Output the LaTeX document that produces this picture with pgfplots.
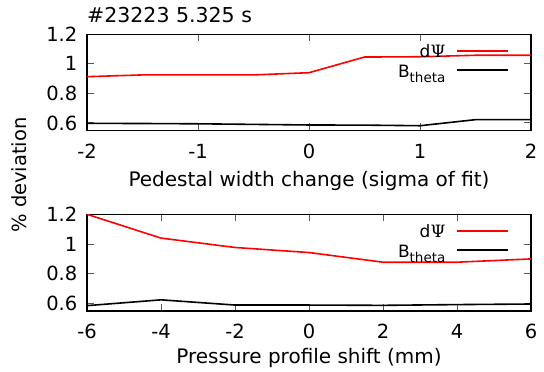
\documentclass[border=0pt]{standalone}
\usepackage{pgfplots}
\pgfplotsset{compat=1.18}
\usepackage{fontspec}
\setmainfont{DejaVu Sans}
\newfontfamily\psifont{DejaVu Serif}

\pgfplotsset{
  myaxis/.style={
    scale only axis, width=444pt,
    ymin=0.55, ymax=1.2,
    ytick={0.6,0.8,1,1.2},
    tick align=inside,
    major tick length=7pt,
    axis line style={line width=1.1pt},
    every tick/.style={black!65, line width=0.9pt},
    tick label style={font=\fontsize{19.5}{22}\selectfont, inner sep=0pt},
    /pgf/number format/assume math mode=true,
    yticklabel style={/pgf/number format/fixed, /pgf/number format/precision=1, anchor=east, xshift=-9.5pt},
    xticklabel style={anchor=base, yshift=-28pt},
    legend style={draw=none, fill=none, inner sep=0pt, outer sep=0pt,
      anchor=north east, font=\fontsize{17}{19}\selectfont,
      nodes={inner sep=0pt, text height=14pt, text depth=0pt},
      column sep=11pt, row sep=5.3pt},
    legend plot pos=right, legend cell align=right,
    legend image code/.code={\draw[#1] (0pt,0pt) -- (51pt,0pt);},
  },
  redline/.style={red, line width=1.6pt, mark=none},
  blackline/.style={black, line width=1.6pt, mark=none},
}

\begin{document}
\begin{tikzpicture}
\useasboundingbox (0,0) rectangle (544pt,372pt);

\begin{axis}[myaxis, at={(87pt,241.7pt)}, anchor=south west, height=96pt,
  xmin=-2, xmax=2, xtick={-2,-1,0,1,2},
  xlabel={Pedestal width change (sigma of fit)},
  xlabel style={at={(axis description cs:0.5,0)}, anchor=base, yshift=-56pt, font=\fontsize{20}{24}\selectfont, inner sep=0pt},
  title={\#23223 5.325 s},
  title style={at={(axis description cs:0,1)}, anchor=base west, yshift=6pt, font=\fontsize{20.5}{24}\selectfont, inner sep=0pt},
  legend style={at={(axis description cs:0.9505,0.902)}},
]
\addplot[redline] coordinates {(-2,0.913) (-1.5,0.925) (-1,0.925) (-0.5,0.925) (0,0.94) (0.5,1.046) (1,1.048) (1.5,1.058) (2,1.058)};
\addlegendentry{d{\psifont Ψ}}
\addplot[blackline] coordinates {(-2,0.597) (-1.5,0.596) (-1,0.594) (-0.5,0.59) (0,0.586) (0.5,0.585) (1,0.581) (1.5,0.622) (2,0.622)};
\addlegendentry{B\raisebox{-5pt}{\fontsize{13.5}{14}\selectfont theta}}
\end{axis}

\begin{axis}[myaxis, at={(87pt,61pt)}, anchor=south west, height=96.7pt,
  xmin=-6, xmax=6, xtick={-6,-4,-2,0,2,4,6},
  xlabel={Pressure profile shift (mm)},
  xlabel style={at={(axis description cs:0.5,0)}, anchor=base, yshift=-52.3pt, font=\fontsize{20}{24}\selectfont, inner sep=0pt},
  legend style={at={(axis description cs:0.9505,0.9)}},
]
\addplot[redline] coordinates {(-6,1.2) (-4,1.04) (-2,0.977) (0,0.943) (2,0.878) (4,0.878) (6,0.9)};
\addlegendentry{d{\psifont Ψ}}
\addplot[blackline] coordinates {(-6,0.586) (-4,0.625) (-2,0.59) (0,0.59) (2,0.588) (4,0.593) (6,0.597)};
\addlegendentry{B\raisebox{-5pt}{\fontsize{13.5}{14}\selectfont theta}}
\end{axis}

\node[rotate=90, font=\fontsize{19.5}{22}\selectfont, inner sep=0pt] at (19pt,197pt) {\% deviation};
\end{tikzpicture}
\end{document}
